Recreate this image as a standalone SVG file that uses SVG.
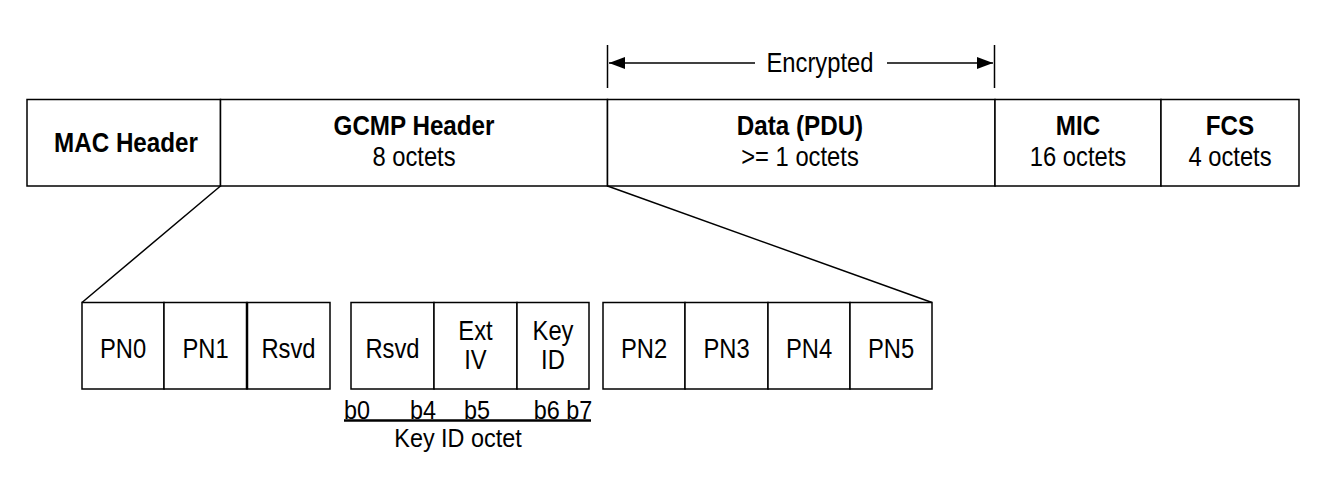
<svg xmlns="http://www.w3.org/2000/svg" width="1332" height="478" viewBox="0 0 1332 478">
<style>
.box{fill:#fff;stroke:#000;stroke-width:1.5}
.ln{stroke:#000;stroke-width:1.5;fill:none}
text{font-family:"Liberation Sans",Arial,sans-serif;font-size:27px;fill:#000;text-anchor:middle}
.b{font-weight:bold;font-size:27.5px}
.s{font-size:26px}
</style>
<defs>
<marker id="ah" viewBox="0 0 16 12" refX="16" refY="6" markerWidth="16" markerHeight="12" markerUnits="userSpaceOnUse" orient="auto-start-reverse">
<path d="M0,0 L16,6 L0,12 Z" fill="#000"/>
</marker>
</defs>
<rect width="1332" height="478" fill="#fff"/>
<g id="encrypted">
<line class="ln" x1="607.5" y1="45" x2="607.5" y2="88"/>
<line class="ln" x1="994.5" y1="45" x2="994.5" y2="88"/>
<line class="ln" x1="755" y1="63" x2="609" y2="63" marker-end="url(#ah)"/>
<line class="ln" x1="887" y1="63" x2="993" y2="63" marker-end="url(#ah)"/>
<text transform="translate(820,72) scale(0.88,1)">Encrypted</text>
</g>
<g id="mac-header">
<rect class="box" x="27" y="99.5" width="193.5" height="86.5"/>
<text class="b" transform="translate(126,152) scale(0.88,1)">MAC Header</text>
</g>
<g id="gcmp-header">
<rect class="box" x="220.5" y="99.5" width="387" height="86.5"/>
<text class="b" transform="translate(414,135) scale(0.88,1)">GCMP Header</text>
<text transform="translate(414,166) scale(0.88,1)">8 octets</text>
</g>
<g id="data">
<rect class="box" x="607.5" y="99.5" width="387.5" height="86.5"/>
<text class="b" transform="translate(800,135) scale(0.88,1)">Data (PDU)</text>
<text transform="translate(800,166) scale(0.88,1)">&gt;= 1 octets</text>
</g>
<g id="mic">
<rect class="box" x="995" y="99.5" width="166" height="86.5"/>
<text class="b" transform="translate(1078,135) scale(0.88,1)">MIC</text>
<text transform="translate(1078,166) scale(0.88,1)">16 octets</text>
</g>
<g id="fcs">
<rect class="box" x="1161" y="99.5" width="138" height="86.5"/>
<text class="b" transform="translate(1230,135) scale(0.88,1)">FCS</text>
<text transform="translate(1230,166) scale(0.88,1)">4 octets</text>
</g>
<g id="connectors">
<line class="ln" x1="220.5" y1="186" x2="82" y2="302.5"/>
<line class="ln" x1="607.5" y1="186" x2="932" y2="302.5"/>
</g>
<g id="pn0"><rect class="box" x="82" y="302.5" width="82" height="86.5"/><text transform="translate(123,358) scale(0.88,1)">PN0</text></g>
<g id="pn1"><rect class="box" x="164" y="302.5" width="83" height="86.5"/><text transform="translate(205.5,358) scale(0.88,1)">PN1</text></g>
<g id="rsvd1"><rect class="box" x="247" y="302.5" width="83" height="86.5"/><line x1="247" y1="302.5" x2="247" y2="389" stroke="#000" stroke-width="2.5"/><text transform="translate(288.5,358) scale(0.88,1)">Rsvd</text></g>
<g id="rsvd2"><rect class="box" x="351" y="302.5" width="83" height="86.5"/><text transform="translate(392.5,358) scale(0.88,1)">Rsvd</text></g>
<g id="ext-iv"><rect class="box" x="434" y="302.5" width="83" height="86.5"/><text transform="translate(475.5,340) scale(0.88,1)">Ext</text><text transform="translate(475.5,369) scale(0.88,1)">IV</text></g>
<g id="key-id"><rect class="box" x="517" y="302.5" width="72" height="86.5"/><text transform="translate(553,340) scale(0.88,1)">Key</text><text transform="translate(553,369) scale(0.88,1)">ID</text></g>
<g id="pn2"><rect class="box" x="603" y="302.5" width="82" height="86.5"/><text transform="translate(644,358) scale(0.88,1)">PN2</text></g>
<g id="pn3"><rect class="box" x="685" y="302.5" width="83" height="86.5"/><text transform="translate(726.5,358) scale(0.88,1)">PN3</text></g>
<g id="pn4"><rect class="box" x="768" y="302.5" width="82" height="86.5"/><text transform="translate(809,358) scale(0.88,1)">PN4</text></g>
<g id="pn5"><rect class="box" x="850" y="302.5" width="82" height="86.5"/><text transform="translate(891,358) scale(0.88,1)">PN5</text></g>
<g id="key-id-octet">
<text class="s" transform="translate(357,419) scale(0.9,1)">b0</text>
<text class="s" transform="translate(423,419) scale(0.9,1)">b4</text>
<text class="s" transform="translate(477,419) scale(0.9,1)">b5</text>
<text class="s" transform="translate(563,419) scale(0.9,1)">b6 b7</text>
<line x1="344" y1="420.5" x2="591" y2="420.5" stroke="#000" stroke-width="2.5"/>
<text class="s" transform="translate(458,447) scale(0.9,1)">Key ID octet</text>
</g>
</svg>
